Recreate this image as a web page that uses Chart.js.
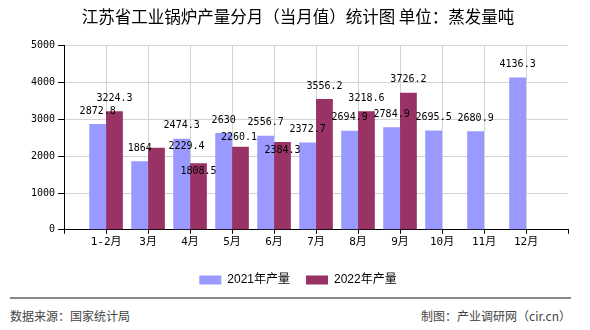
<!DOCTYPE html>
<html><head><meta charset="utf-8">
<script src="https://cdn.jsdelivr.net/npm/chart.js@4.4.0/dist/chart.umd.min.js"></script>
<style>
html,body{margin:0;padding:0;background:#fff;}
#wrap{position:relative;width:590px;height:330px;overflow:hidden;background:#fff;}
#box{position:absolute;left:0;top:0;width:590px;height:300px;}
#rule{position:absolute;left:10px;top:297px;width:561px;height:2px;background:#888;}
.foot{position:absolute;top:308px;font:12px "Noto Sans CJK SC",sans-serif;color:#444;line-height:16px;white-space:nowrap;}
</style></head><body>
<div id="wrap">
<div id="rule"></div>
<div class="foot" style="left:10px">数据来源：国家统计局</div>
<div class="foot" style="right:19px">制图：产业调研网（cir.cn）</div>
<div id="box"><canvas id="cv" width="590" height="300"></canvas></div>
</div>
<script>
const titleText = '江苏省工业锅炉产量分月（当月值）统计图 单位：蒸发量吨';
const categories = ['1-2月','3月','4月','5月','6月','7月','8月','9月','10月','11月','12月'];
const output2021 = [2872.8,1864,2474.3,2630,2556.7,2372.7,2694.9,2784.9,2695.5,2680.9,4136.3];
const output2022 = [3224.3,2229.4,1808.5,2260.1,2384.3,3556.2,3218.6,3726.2,null,null,null];
const seriesNames = ['2021年产量','2022年产量'];
const yTicks = [0,1000,2000,3000,4000,5000];

// axis has one empty slot before the first and after the last month
const labels = [''].concat(categories, ['']);
const pad = arr => [null].concat(arr, [null]);

// label nudges (dataset:categoryIndex) to mirror the reference's overlap handling
const labelNudge = {'1:1':[30,12], '1:2':[0,21], '1:3':[-1.5,4], '1:4':[0,21]};

const valueLabels = {
  id: 'valueLabels',
  afterDatasetsDraw(chart) {
    const ctx = chart.ctx;
    ctx.save();
    ctx.font = '10px "DejaVu Sans Mono"';
    ctx.fillStyle = '#000';
    ctx.textAlign = 'center';
    ctx.textBaseline = 'middle';
    chart.data.datasets.forEach((ds, di) => {
      chart.getDatasetMeta(di).data.forEach((el, i) => {
        const v = ds.data[i];
        if (v === null || v === undefined) return;
        const n = labelNudge[di + ':' + (i - 1)] || [0, 0];
        ctx.fillText(String(v), el.x + n[0], el.y - 13 + n[1]);
      });
    });
    ctx.restore();
  }
};

new Chart(document.getElementById('cv'), {
  type: 'bar',
  data: {
    labels: labels,
    datasets: [
      {label: seriesNames[0], data: pad(output2021), backgroundColor: '#9999FF', borderWidth: 0},
      {label: seriesNames[1], data: pad(output2022), backgroundColor: '#993366', borderWidth: 0}
    ]
  },
  options: {
    responsive: false,
    animation: false,
    events: [],
    categoryPercentage: 0.8,
    barPercentage: 1.0,
    layout: {padding: {left: 28, right: 22, top: 0, bottom: 4}},
    plugins: {
      title: {
        display: true, text: titleText, color: '#000',
        font: {family: '"Noto Sans CJK SC"', size: 16.5, weight: 'normal'},
        padding: {top: 7, bottom: 19}
      },
      legend: {
        position: 'bottom',
        labels: {
          boxWidth: 22, boxHeight: 9, padding: 16, color: '#000',
          font: {family: '"Liberation Sans", "Noto Sans CJK SC"', size: 12}
        }
      },
      tooltip: {enabled: false}
    },
    scales: {
      x: {
        offset: false,
        afterFit: s => { s.height += 7; },
        grid: {
          offset: false, drawTicks: true, tickLength: 4, tickColor: '#000',
          color: c => (c.index === labels.length - 1 ? 'rgba(0,0,0,0)' : '#d3d3d3')
        },
        border: {color: '#000', width: 1},
        ticks: {
          autoSkip: false, maxRotation: 0, padding: 2, color: '#000',
          font: {family: '"DejaVu Sans Mono", "Noto Sans CJK SC"', size: 11}
        }
      },
      y: {
        min: yTicks[0], max: yTicks[yTicks.length - 1],
        afterBuildTicks: s => { s.ticks = yTicks.map(v => ({value: v})); },
        grid: {color: '#d3d3d3', tickLength: 6, tickColor: '#000'},
        border: {color: '#000', width: 1},
        ticks: {
          padding: 3, color: '#000',
          font: {family: '"DejaVu Sans Mono"', size: 10},
          callback: v => String(v)
        }
      }
    }
  },
  plugins: [valueLabels]
});
</script>
</body></html>
